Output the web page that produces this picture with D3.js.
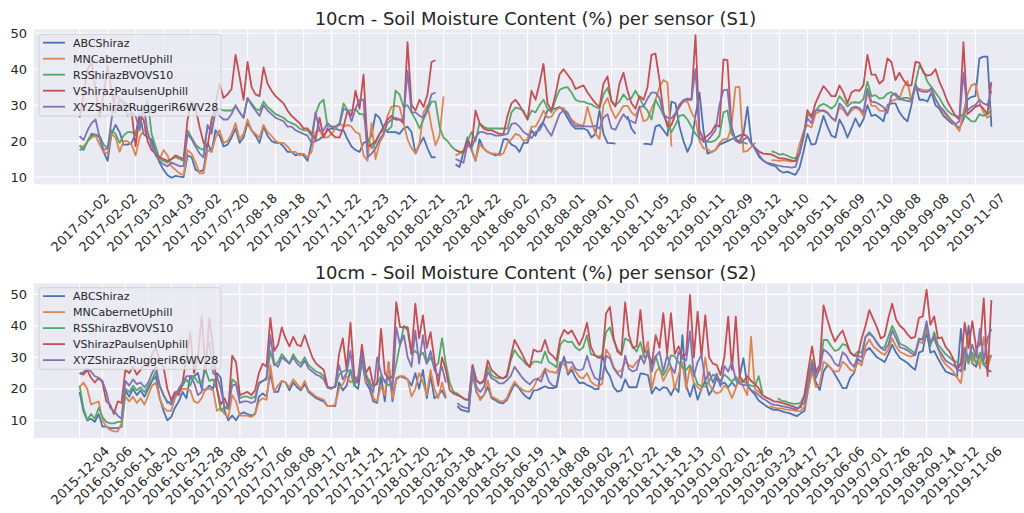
<!DOCTYPE html>
<html>
<head>
<meta charset="utf-8">
<script src="https://cdn.jsdelivr.net/npm/d3@7"></script>
<style>
  html, body { margin: 0; padding: 0; background: #ffffff; }
  svg { display: block; font-family: "DejaVu Sans", sans-serif; }
</style>
</head>
<body>
<svg id="chart" width="1024" height="513"></svg>
<script>
// Sensor names and their line colours (seaborn "deep" palette)
const sensors = ["ABCShiraz", "MNCabernetUphill", "RSShirazBVOVS10", "VShirazPaulsenUphill", "XYZShirazRuggeriR6WV28"];
const colors = ["#4C72B0", "#DD8452", "#55A868", "#C44E52", "#8172B3"];
const yTicks = [10, 20, 30, 40, 50];

// ---- S1 : one reading per sample, a date label every 7 samples ----
const s1TickLabels = ["2017-01-02","2017-02-02","2017-03-03","2017-04-03","2017-05-02","2017-07-20","2017-08-18","2017-09-18","2017-10-17","2017-11-22","2017-12-23","2018-01-21","2018-02-21","2018-03-22","2018-04-22","2018-06-02","2018-07-03","2018-08-01","2018-09-01","2018-10-07","2018-11-05","2018-12-06","2019-01-11","2019-02-09","2019-03-12","2019-04-10","2019-05-11","2019-06-09","2019-07-10","2019-08-08","2019-09-08","2019-10-07","2019-11-07"];
const s1TickStep = 7;

const s1ABC = [17.5,18,20,22,21.8,21,17,14.5,22,24.5,22.5,19,19,19.5,22,27.5,22,21,20.5,17,14,12,10.5,9.8,10.3,10.1,10,16,15.5,12,11.5,12,19.5,17,23,21.5,18.5,19,21,23.5,19.5,21,25,23,21.5,19.5,24,21.5,20,19.5,19.5,18.5,17,17,16,16.5,16,14.5,19.5,20,20.5,21.5,23,23.5,23.5,23,23,20.5,18.5,17.5,17,19.5,20,21.5,27.5,26.5,23.5,22.5,22.5,22.5,22,23.5,24,22.5,16.5,19,21,18,15.5,15.5,null,null,null,null,13.5,12.8,17,21,17.5,14.5,20.5,18,17,16.5,16,16.5,20.5,20.5,19,18.5,17,19.5,19.5,23,21.5,24,25.5,28.5,29,29,29.5,28.5,26.5,24.5,23.5,23.5,23.5,23,21,22,28.5,22,19.5,19.4,19.3,null,null,27,23.5,22,null,19.2,19.2,19,24,24.5,23,21.5,31,30.5,24,20,17,19.5,27,33.5,23,16.5,17,17.5,19,19.5,20,20.5,21,21.5,22,29.5,19.5,17.5,15.5,14.5,13.8,13.3,13,11.8,11.2,11.5,11,10.6,12.5,17,22,19,19.2,23,27,24,21.5,21,26,24,21,23.5,26.3,24,26,30,27,27.3,26.5,25.5,30,30.5,30.5,28,26.5,25.5,30,36,31.5,31.5,31,33.5,30,29,27,26,25,24.5,23.5,26,31.5,32.3,32.5,43,43.5,43.5,24];
const s1MN = [18.5,18.5,20,21,21.5,19,17,16.5,22,21,17,20,20,19,16,21,23,22.5,19,16.5,15,17.5,16,13,12,11,10.5,17.5,16.5,14,11,11,17.5,17,21,23,19.5,20,22,25,20.5,22,26,23,22,21,24.5,22.5,21.5,20,19.5,19.5,18.5,17,17,16,16.5,15.5,17,22.5,23,21,21,22,23.5,25,24,24.5,24,22.5,22,16,14.5,25,15,19.5,21.5,27,29.6,29.8,29.6,25,20.5,18,16.6,19.5,28,30,24,18.8,21.5,32.4,null,null,16,16.5,17.5,19,18,14.5,19,18,17,16.5,16.5,16,16.6,19.5,20.5,22,21.6,20,20.5,24,24,26,28.5,26.5,26.8,28.6,29.3,29.2,27.5,26,25,24.5,24.3,29.5,25.5,22,20.6,30,32,28.6,26.3,28,29.8,29.8,28,27,29.6,25.5,26,29,31.4,35,37,36.3,18.5,null,29.6,31,31,28,26,20,18,17.8,16.8,17.5,19.5,20.5,20.5,24,35,35.1,17,17.3,18.4,19.6,null,null,null,14.7,14.6,14.5,14.7,14.5,14.3,14.5,19,22.5,24.5,23.8,27.5,28.2,28.6,28,26.5,25.5,29.5,28.6,27,28.5,29.3,28.7,27,33.8,29.8,29.8,28.5,28.3,29.5,31.2,31.5,31.8,35,36.7,31,34.8,34.5,34.2,34.2,33.8,31.8,29.6,28,26.5,25.5,24.3,22.8,28,33,35.5,36,31,28,26.5,27.5];
const s1RS = [18.8,17.5,20,21.5,21.8,21.5,19,18,23,22,19.5,21.5,22.5,22.5,22,25,28,31.5,22,18.5,15,14.5,14,15,15.5,15,14.5,23,21,19,18,17.5,24,23,28,29,28.5,28.5,28.5,29.5,28,26.5,32,30.5,29,28.5,31,29.5,28.5,27.5,27,26.5,25.5,25,24.5,23.5,23,23,21.5,27.5,30.5,31.5,24,24,24,25,30.5,28.5,28.5,29,27.5,27.5,21,18,19.5,22,23,23,24,34,33,29.5,30,28,26,23.5,26,28.5,31,31,24,21,20,18.5,17.5,17,16.5,20,22.5,20,25,24,23.5,23.5,23.5,23.5,23.5,23.5,28,29.3,29,28.5,26,28.5,28,30,31.5,29,28,31.5,34.2,34.8,35,33.5,31.5,31,31,30.5,30.2,29.5,29,33,34.8,31.2,30,31,33,31.5,32,34,32,29.8,28.5,26,31.5,29.5,27.2,25,22.5,24.5,27,27.3,26,24,22,20.8,20.1,19.8,19.8,20.2,21.5,28,28.5,22,20.8,19.5,19.6,19.2,null,null,null,null,null,17.2,16.8,16.2,16.4,15.9,15.4,15.2,16.5,21,27,27.5,28.3,29.8,30.4,29.8,29,30,32.5,31.2,29.6,30.7,30.8,30.6,31.7,36.5,32.5,32.8,31.8,32,33.2,33.6,32.7,31.5,32,32,31.5,36,41,39.5,36.5,35,33.5,32,30,28.5,27.5,27,26.8,27.5,26.5,25.5,25.5,27.5,27,27.5,28.5];
const s1V = [26.5,33,40,42,34,27,33,41,34,28,31.5,31,30,28,18.5,27,26,20,17.5,16.5,15.5,15,14.5,15,16,15.5,15,26,31,29,24,19.5,18.5,26,30,36,32,33,34.5,44,38,31.5,42,35,33,32.5,40.5,36,34,32.5,31.5,30.5,28.5,27,26,25,23.5,23.5,22,20.5,26.5,21,23.5,22,21,21,24,28.5,27,34,29,38.5,18.5,19,20,22,24,26,27,26,26,25,47.5,30,28.5,31.5,29.5,33,42,42.5,null,null,null,null,17.5,17,17,20,18.5,28.5,25,23.5,23,23,22.5,22,22,27,30.5,31.5,30,28,26,34,31.5,36,41.5,30.5,28.5,33,38.5,40,38.5,37,34.5,35,35.5,33.5,32,30.5,29.5,36,38,31,29.6,36,39,34,30.5,29,32.5,31.5,35,44,44.3,37,28,24,24.5,27.5,29.5,31.4,31.8,31.5,49.5,23,20.5,21.5,22.5,24.5,24,42.7,42.5,24,20.3,20,22,21.2,19.2,18,17,16.5,16.4,16.3,15.7,15.2,15.2,14.9,14.6,14.4,16.5,21,28.6,26.5,30.5,33,35.3,34,32.5,32.5,35.5,33.5,30.5,33.5,34.2,34,35.5,44,38.5,38.5,36,37,43,42,37,39,37,35.5,35.5,42,41.8,39,38.2,38.5,40,36.5,34,31,29,27,26,47.5,27.5,28.5,29.5,30,29,27.5,36.5];
const s1XYZ = [21.4,20.3,23,25,26,21,17.5,18,26,33,32,30,27,28,27,23,30,22.5,19,16,14.5,13.5,13,14,13.5,13,13,22,20.5,18.5,16.5,15.5,24.5,22,29,27,26,26,27.5,30,28,26.5,32,30,28.5,27,30,28.5,27.5,26.5,26,25.5,24,24,23,22.5,22,21.5,19.5,28,23,23,25,24,24,24.5,29,28.5,25.5,29,31.5,31.5,15.5,16.5,18,20.5,22,25,26,26.5,26,26,39.5,28,28,27,26.5,29,33,33.5,null,null,null,null,15,14.5,14,19,18,21,22.5,22.5,22,22,21.5,21.5,21.7,22,24.8,25,24,22.5,21.8,20.8,22.5,23,25,23,21.5,24.5,27.5,28.5,28,25.5,24.2,24.2,24.1,24.1,24,24.2,23.5,26.5,27.5,23.5,23.2,25.5,27.5,26,25.5,25,29.6,29.6,31.8,33.5,33.5,32,27.5,26.5,26.3,27.8,30.2,31.4,31.5,31.5,40,21,19.8,20.1,21.5,23,30,34.2,34.3,24,20.1,19.5,20.3,21.2,19.2,18,16,14.5,13.9,13.7,13.4,13.1,12.9,12.8,12.6,12.8,16.5,22,26.3,25,28.5,28.6,28.4,27.8,26.5,25.8,30.5,29.3,27.3,29.2,29.6,29.2,28,34.5,31,30.8,30.2,29.5,27.8,32.7,33.3,32,31.4,31.2,31,35.5,34,33.7,33.7,34.7,31.7,29.8,28.6,27.2,25.8,24.7,25.5,39,28.5,29.5,30,31.5,30.5,30,34];

// ---- S2 : one reading per sample, a date label every 6 samples ----
const s2TickLabels = ["2015-12-04","2016-03-06","2016-06-11","2016-08-20","2016-10-29","2016-12-28","2017-03-08","2017-05-17","2017-07-06","2017-08-08","2017-09-17","2017-10-24","2017-11-21","2017-12-21","2018-01-20","2018-02-21","2018-03-18","2018-04-12","2018-05-10","2018-06-19","2018-07-14","2018-08-08","2018-09-02","2018-09-27","2018-10-22","2018-11-18","2018-12-13","2019-01-07","2019-02-01","2019-02-26","2019-03-23","2019-04-17","2019-05-12","2019-06-06","2019-07-01","2019-07-26","2019-08-20","2019-09-14","2019-10-12","2019-11-06"];
const s2TickStep = 6;

const s2ABC = [19,13,10,10.5,9.5,12,8,8,7.5,7.5,7.5,8,19.5,17.5,20,18,19.5,17.5,20,22.5,24,17,13,10,11,14,16,19,17,24,24,25,20,19.5,21,20,25,23.5,13,10,11.5,10,12,12.5,12,11.5,12,17.5,18.5,17.5,25,19,19,22.5,22,19.5,22,20.5,19.5,21.5,19,18,17,16.5,16,14.5,14.5,14.5,22,19.5,21,26,21,20,29,22,20,16,15.5,24,16,28.5,16,23,24,23.5,23,21,25,20,26,17,24,17,18,19.5,17,null,null,14.5,13.3,13,12.7,24.8,19,17,18,20.6,17,16.4,15.6,15.4,16.4,19,21.5,20.5,18.8,17.5,16.8,19.5,19.6,20.2,20.8,20.2,20.2,20.5,26.5,30.2,24.5,26,23.5,21.8,22,21.2,20.7,19.9,19.9,31,26,24,20.5,19.1,19.5,23,20.5,20.5,20.5,24.9,24.7,24.3,18.5,20.5,19.5,20.5,20.2,18,20.5,19,37,21,17.5,21.5,16.5,20,22.5,18,20,23.5,21.3,22,20.5,22,20.5,24,29.7,21.2,19.5,18.2,16.3,15.4,14.5,13.8,13.3,13.3,12.9,12.5,12.3,11.8,11.3,12.2,13,20,26.5,22,19.6,25.5,27.5,26.5,24.5,22.5,20.2,20.2,23.5,25,29.5,28.5,32,33,31.5,30,29.3,28.5,31,34,31.5,29.8,29,28.2,27,26,31.5,32,38.2,31.5,32,29.6,27.5,25.5,25,24.5,24,39,26,40,28,27,31,28,26,25.4];
const s2MN = [20.5,22,20,15,15.5,16,10,8,7,6.5,6.5,9,17.5,16,17.5,15.5,17,15,18,21,22,17,14,13,13,17,19,20,20,19.5,16,15.5,17,20,20,19.5,13,14,12,11,18,16,11.5,11.5,11.5,11,12,16,17,16.5,27.5,19,21,22.5,22,20.5,23,21.5,20,22.5,19.5,18.5,17.5,17,16.5,14.5,14.5,15,20,21.5,24,22,23,24,33,22,23,17,16,21,18,28.5,17,23.5,24,24,23,17.5,20,25,22,18,26,20,17,22,17.5,null,null,null,null,null,14.3,25.4,19.6,16.4,18,22.7,17.5,17,16.2,15.9,17,20,22.3,20.8,19.8,19.2,19.1,20.5,23,24,26.5,25.5,25.4,25,28.5,27.8,25.2,27,25.5,23.8,23.3,25,22.3,21.3,20.8,21.6,32.5,30.6,26.8,25.3,25.8,28.6,27.5,26.8,28.5,29.6,31,35,20,25.4,26.8,22.5,25,27,20,24.5,28.4,20,27,22,20.5,19.5,30,21.5,19.5,18.5,19,21,20,17,20.2,24,20.5,18,36.5,20,19,18,null,14.5,14,13.8,13.8,13.5,13.3,13.2,12.9,13,14.3,20,25.5,20.5,21.5,28.6,27.8,26.3,25.5,25.6,28.6,27.6,26,25.6,28.4,27.4,33.5,35.7,33.5,32.5,31.5,30.7,32.5,36,33.5,31.7,31.2,30.5,30.2,30.7,35,34.5,39,35,35.7,32.8,29.5,27.8,26.7,25.5,23.5,21.8,30,37,28,33,26.5,36.5,27,30.7];
const s2RS = [21,14,10,12,10.5,14,11,9.5,9,9,9.5,9.5,20,19,21,19.5,20.5,19,21,23,25.5,21,18,15.5,16,18.5,19.5,21,23,21,24,22,22,26,22.5,23,20,13,14,13.5,23,22,17,17.5,17.5,17,17.5,21.5,22.5,23.5,32,27.5,28.5,31,29.5,28,31,29,28,30,27.5,26.5,25.5,25,24,20.5,20.3,20.5,24.5,25.5,26,25.5,21,23,28,25,22,20.5,22,24,22.5,21,22,28,34,40,38.5,31,32,30.5,31.5,28,30,27,28,36,28,22,19,18.5,17.5,16.6,16.4,27.5,22.7,21.7,22.2,27,24.3,23.6,23.3,23.3,23.8,29,32.3,30.5,29.3,27.8,27.2,28.6,28.6,28.2,31.8,28.5,27.8,26.8,34,35.5,34.8,35,33.2,32.2,33.2,37,31,30.5,30.2,30.5,38,39.5,35.3,32.5,30.8,36,35.3,33.4,31.8,34.8,30,30.5,27.5,30.5,26.5,24.4,26.5,30.6,30.3,28.3,26.8,26,27.5,25,21.5,20.7,20.7,22.5,24.5,24,22.5,24.5,23.5,22.2,23.8,22.2,22.3,21.6,21,20.8,24,18.5,null,null,null,17,16.2,16,15.5,15.3,15.2,15.5,18,24,29.2,24.8,26,35.5,35.5,33.5,32,32.5,34.2,33.8,31.6,30.6,31.8,31.5,36.5,38,36.5,34.8,33,33.2,36.5,40,37.5,34.3,33.8,33,32.2,31.3,35.5,36,40.5,33.5,38,34,32.5,31,30,29,28.5,27.5,31.5,28,31.5,28,31.5,27.5,29.5,30.7];
const s2V = [25,24.5,26,23.5,22,23.5,22,16,15,12,16,15.5,26,25,27,24.5,26,28,27,31,33,29,27,20,16.5,19,18,22,30,38,25,30,43,26,42.5,33,20,15,17,14,30.5,28.5,18,18.5,19,18,19.5,25,28,27,42.5,32,34,39.5,36,33.5,36.5,34,33.5,37,33.5,30,28,27,26,20.5,20.3,20.5,31,36,26,41,24,22,34,25,27,21,21.5,39,25,23,24,47.5,39.6,39.5,39.6,31,47,36,43.3,33,38,29,21,30,26,19.6,18.5,18,17.5,16.7,16.6,27.5,22.7,21.7,22.7,29,25.9,24.8,23.8,23.3,24.3,30,35.5,33.3,31,28.5,26.8,32.5,31.8,32,35.5,31.5,30.5,29,36,38.7,37.5,38.5,36.2,33.9,36.5,41,33.4,30.8,29.8,30,44,46,36,31.8,30.8,47.4,37,33,33.5,45,32,31.5,28,37,33,44,31,44,31,33.5,30.3,31,49.8,30,44.5,30,43.4,30,28,27.6,24.4,30,42.9,26,42.9,24,22.3,24,22.5,21.5,20.2,18,17.2,16.7,16,15.9,15.5,15.2,14.8,14.4,13.9,14.1,18,26,33.5,25.5,27.5,46.5,42,38,35,37,38.5,35,31.5,30.5,30.5,36,40,45,42.2,39.5,36,36.8,42.5,47,42,40,39,37.3,36,36.5,42.5,43,51.5,40.3,43,36,36.3,33.3,31.9,29.5,26,28,41,33,41.5,33,34,48.7,24,48.2];
const s2XYZ = [24.8,25.2,26.5,25.5,24,23.5,22.5,19,14,13,11.5,10.5,22.5,21,23,21.5,22,20.5,22,25,27,21,18,16,15,18,20,22,24,24,22,18,19,30,35,25,24,20,14,14.5,21,21.5,15.5,16,16,15.5,16,22,22.5,23,37,28,27,30,29,28,30,28,27,29,26.5,25.5,24.5,24,23,20.3,20,21,27.5,23,25,32,22,23,31.5,24,21,19,30,25,22,24,19.5,39.5,34,37,30,27,38.5,28,37,28,32,26,24,27,22,null,null,15.4,14.5,14,13.8,26.4,20.6,19,20.6,25.4,23.3,22.7,21.7,21.7,22.7,24,27,25.3,23.6,22.3,21.4,22.8,23.2,22.3,26,22.3,21,20.8,28,29,28.3,28.5,26.3,25.8,26.3,30.5,26.5,23.5,22.8,23.3,30.5,29.7,26.5,24.8,23.5,30.5,26.3,25.5,26,30.5,28,32.5,25.5,30.2,31.8,25.5,30.7,27,25,31.8,29.6,29,38.2,24,28.5,30.7,22.5,25.3,22,24.8,20.7,27.3,25.5,28.5,22.8,21.6,21.2,21.2,19.5,19,18,17,16.3,15.4,14.9,14.8,14.5,14.3,14,13.7,13.4,14.8,15.5,22,28.2,23.5,26.3,32.5,31.6,30.2,28,27.2,31.6,30.5,28.2,27,30.5,30,36.5,37.5,36.5,34.5,33,32.2,34,38.5,36,33.2,32.8,32.2,31.3,30.7,36,35.5,41.5,34.5,36.5,32.8,31,29,28.2,27.5,26.5,25.5,33,29.5,34,30,39,29,36,39];

// ---- layout of the two stacked panels ----
const AX_LEFT = 34, AX_RIGHT = 1037;
const TEXT = "#262626";
const panels = [
  { title: "10cm - Soil Moisture Content (%) per sensor (S1)", series: [s1ABC, s1MN, s1RS, s1V, s1XYZ],
    tickLabels: s1TickLabels, tickStep: s1TickStep, top: 29.3, bottom: 184.3, yLim: [7.97, 51.1],
    titleY: 25, labelOffset: 38.2, legendTop: 34.3 },
  { title: "10cm - Soil Moisture Content (%) per sensor (S2)", series: [s2ABC, s2MN, s2RS, s2V, s2XYZ],
    tickLabels: s2TickLabels, tickStep: s2TickStep, top: 283.3, bottom: 438, yLim: [4.38, 53.5],
    titleY: 279, labelOffset: 37.5, legendTop: 287.7 }
];

const svg = d3.select("#chart");
const defs = svg.append("defs");

panels.forEach((p, pi) => {
  const span = d3.max(p.series, s => s.length) - 1;
  // 5% padding either side of the sample range
  const x = d3.scaleLinear().domain([-0.05 * span, span * 1.05]).range([AX_LEFT, AX_RIGHT]);
  const y = d3.scaleLinear().domain(p.yLim).range([p.bottom, p.top]);
  const tickIdx = p.tickLabels.map((_, k) => k * p.tickStep);

  const clipId = "plot-clip-" + pi;
  defs.append("clipPath").attr("id", clipId).append("rect")
    .attr("x", AX_LEFT).attr("y", p.top).attr("width", AX_RIGHT - AX_LEFT).attr("height", p.bottom - p.top);

  const g = svg.append("g");

  // axes background
  g.append("rect").attr("x", AX_LEFT).attr("y", p.top)
    .attr("width", AX_RIGHT - AX_LEFT).attr("height", p.bottom - p.top).attr("fill", "#EAEAF2");

  // white grid
  g.append("g").selectAll("line").data(tickIdx).join("line")
    .attr("x1", d => x(d)).attr("x2", d => x(d)).attr("y1", p.top).attr("y2", p.bottom)
    .attr("stroke", "#ffffff").attr("stroke-width", 1.2);
  g.append("g").selectAll("line").data(yTicks).join("line")
    .attr("x1", AX_LEFT).attr("x2", AX_RIGHT).attr("y1", d => y(d)).attr("y2", d => y(d))
    .attr("stroke", "#ffffff").attr("stroke-width", 1.2);

  // sensor lines (gaps where there is no reading)
  const line = d3.line().defined(d => d != null).x((d, i) => x(i)).y(d => y(d));
  g.append("g").attr("clip-path", `url(#${clipId})`)
    .selectAll("path").data(p.series).join("path")
    .attr("d", line).attr("fill", "none")
    .attr("stroke", (d, i) => colors[i]).attr("stroke-width", 1.8)
    .attr("stroke-linejoin", "round");

  // y axis labels
  const ya = g.append("g").attr("transform", `translate(${AX_LEFT},0)`)
    .call(d3.axisLeft(y).tickValues(yTicks).tickSize(0).tickPadding(7));
  ya.select(".domain").remove();
  ya.attr("font-size", 13).attr("font-family", "DejaVu Sans");
  ya.selectAll("text").attr("fill", TEXT);

  // x axis labels, rotated 45 degrees and centred on their ticks
  const xa = g.append("g").attr("transform", `translate(0,${p.bottom})`)
    .call(d3.axisBottom(x).tickValues(tickIdx).tickFormat((d, k) => p.tickLabels[k]).tickSize(0));
  xa.select(".domain").remove();
  xa.attr("font-size", 13).attr("font-family", "DejaVu Sans");
  xa.selectAll("text")
    .attr("y", 0).attr("dy", "0.35em").attr("text-anchor", "middle").attr("fill", TEXT)
    .attr("transform", `translate(0,${p.labelOffset}) rotate(-45)`);

  // title
  g.append("text").attr("x", (AX_LEFT + AX_RIGHT) / 2).attr("y", p.titleY)
    .attr("text-anchor", "middle").attr("font-size", 18).attr("fill", TEXT).text(p.title);

  // legend
  const lg = g.append("g");
  lg.append("rect").attr("x", 39).attr("y", p.legendTop).attr("width", 182).attr("height", 81.7)
    .attr("rx", 3).attr("fill", "#EAEAF2").attr("fill-opacity", 0.8)
    .attr("stroke", "#CCCCCC").attr("stroke-opacity", 0.8).attr("stroke-width", 1);
  const rows = lg.selectAll("g.entry").data(sensors).join("g").attr("class", "entry")
    .attr("transform", (d, i) => `translate(0,${p.legendTop + 8.4 + i * 16})`);
  rows.append("line").attr("x1", 43).attr("x2", 65).attr("y1", 0).attr("y2", 0)
    .attr("stroke", (d, i) => colors[i]).attr("stroke-width", 1.8);
  rows.append("text").attr("x", 73).attr("y", 0).attr("dy", "0.35em")
    .attr("font-size", 11).attr("fill", TEXT).text(d => d);
});
</script>
</body>
</html>
